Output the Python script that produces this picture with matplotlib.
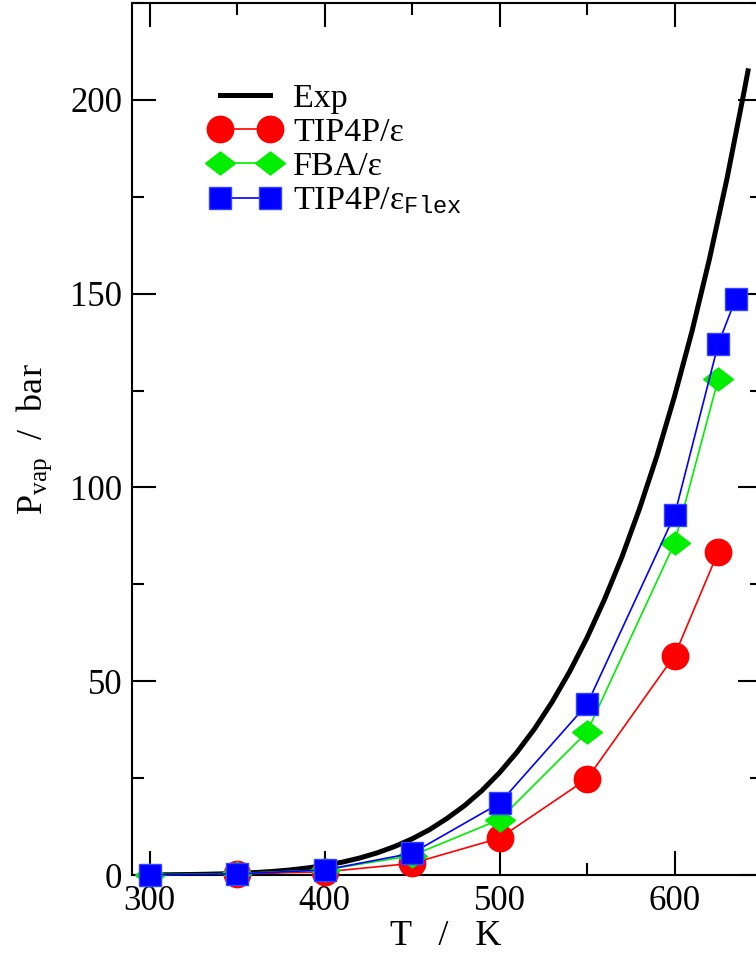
import matplotlib
matplotlib.use('Agg')
import matplotlib.pyplot as plt

plt.rcParams['font.family'] = ['Liberation Serif', 'DejaVu Serif']
plt.rcParams['mathtext.fontset'] = 'custom'
plt.rcParams['mathtext.rm'] = 'Liberation Serif'
plt.rcParams['mathtext.it'] = 'Liberation Serif:italic'
plt.rcParams['mathtext.tt'] = 'Liberation Mono'

exp_T = [300, 310, 320, 330, 340, 350, 360, 370, 380, 390, 400, 410, 420, 430,
         440, 450, 460, 470, 480, 490, 500, 510, 520, 530, 540, 550, 560, 570,
         580, 590, 600, 610, 620, 630, 640, 642]
exp_P = [0.035, 0.062, 0.105, 0.172, 0.272, 0.417, 0.622, 0.905, 1.29, 1.80,
         2.46, 3.30, 4.37, 5.70, 7.34, 9.32, 11.7, 14.6, 17.9, 21.8, 26.4, 31.7,
         37.7, 44.6, 52.4, 61.2, 71.1, 82.1, 94.5, 108.2, 123.5, 140.3, 159.0,
         179.7, 202.7, 207.5]

tip4p_T = [350, 400, 450, 500, 550, 600, 625]
tip4p_P = [0.3, 0.8, 3.0, 9.5, 24.8, 56.6, 83.4]

fba_T = [300, 350, 400, 450, 500, 550, 600, 625]
fba_P = [0.05, 0.4, 1.3, 5.0, 14.3, 36.9, 85.6, 128.0]

flex_T = [300, 350, 400, 450, 500, 550, 600, 625, 635]
flex_P = [0.05, 0.3, 1.3, 5.6, 18.5, 44.0, 92.8, 137.0, 148.7]

# wide, flat diamond like the original symbols
diamond = [(-1, 0), (0, 0.77), (1, 0), (0, -0.77), (-1, 0)]

fig = plt.figure(figsize=(7.56, 9.57), dpi=100)
ax = fig.add_axes([132 / 756, 82 / 957, 630 / 756, 872 / 957])

ax.plot(exp_T, exp_P, color='black', lw=3.6, label='Exp', zorder=2)
ax.plot(tip4p_T, tip4p_P, color='red', lw=1.2, marker='o', ms=19,
        label='TIP4P/ε', clip_on=False, zorder=3)
ax.plot(fba_T, fba_P, color='#00ee00', lw=1.2, marker=diamond, ms=21.5,
        label='FBA/ε', clip_on=False, zorder=3)
ax.plot(flex_T, flex_P, color='blue', lw=1.2, marker='s', ms=16.5,
        mec='#3344ff', label=r'TIP4P/ε$_{\mathtt{Flex}}$', clip_on=False,
        zorder=3)

ax.set_xlim(290, 650)
ax.set_ylim(0, 225)
ax.set_xticks([300, 400, 500, 600])
ax.set_xticks([350, 450, 550, 650], minor=True)
ax.set_yticks([0, 50, 100, 150, 200])
ax.set_yticks([25, 75, 125, 175, 225], minor=True)

ax.tick_params(which='both', direction='in', top=True, right=True,
               width=1.5, labelsize=25)
ax.tick_params(which='major', length=17, pad=7)
ax.tick_params(which='minor', length=8.6)
for s in ax.spines.values():
    s.set_linewidth(1.5)

ax.set_xlabel('T   /   K', fontsize=26)
ax.set_ylabel(r'P$_{\rm vap}$  /  bar', fontsize=26)
ax.xaxis.set_label_coords(0.498, -0.052)
ax.yaxis.set_label_coords(-0.124, 0.5)

ax.legend(loc='upper left', bbox_to_anchor=(210 / 756, 1 - 83 / 957),
          bbox_transform=fig.transFigure, frameon=False, fontsize=24.5,
          numpoints=2, handlelength=2.07, handletextpad=0.38,
          labelspacing=0.1, borderpad=0, borderaxespad=0)

fig.savefig('out.png', dpi=100)
